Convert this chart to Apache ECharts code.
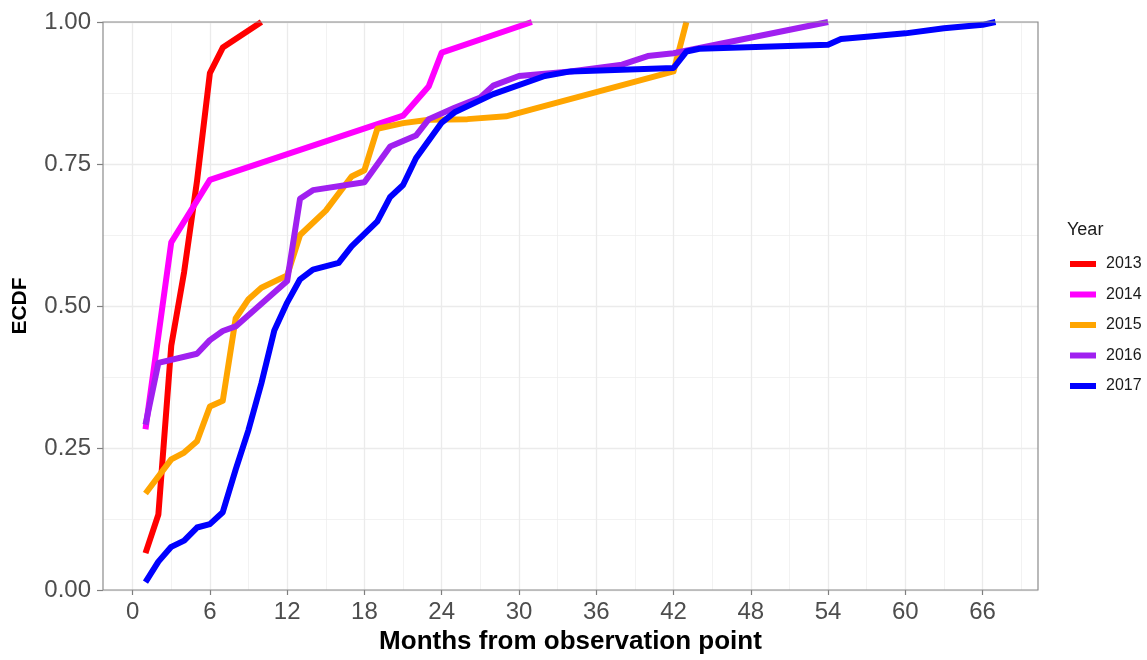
<!DOCTYPE html>
<html>
<head>
<meta charset="utf-8">
<script src="https://cdn.jsdelivr.net/npm/echarts@6/dist/echarts.min.js"></script>
<style>html,body{margin:0;padding:0;background:#fff}#chart{width:1147px;height:660px}</style>
</head>
<body>
<div id="chart"></div>
<script>
// ---- data ----
const years = ['2013', '2014', '2015', '2016', '2017'];
const months2013 = [1, 2, 3, 4, 5, 6, 7, 10];
const ecdf2013   = [0.065, 0.133, 0.43, 0.56, 0.72, 0.91, 0.955, 1.0];
const months2014 = [1, 3, 6, 21, 23, 24, 31];
const ecdf2014   = [0.283, 0.612, 0.722, 0.835, 0.887, 0.946, 1.0];
const months2015 = [1, 3, 4, 5, 6, 7, 8, 9, 10, 12, 13, 15, 17, 18, 19, 21, 23, 26, 29, 31, 42, 43];
const ecdf2015   = [0.17, 0.23, 0.242, 0.262, 0.323, 0.333, 0.478, 0.512, 0.532, 0.554, 0.625, 0.668, 0.728, 0.739, 0.812, 0.822, 0.828, 0.829, 0.834, 0.846, 0.913, 1.0];
const months2016 = [1, 2, 5, 6, 7, 8, 12, 13, 14, 18, 20, 22, 23, 25, 27, 28, 30, 34, 38, 40, 42, 54];
const ecdf2016   = [0.291, 0.40, 0.416, 0.44, 0.456, 0.464, 0.544, 0.689, 0.704, 0.718, 0.781, 0.80, 0.829, 0.849, 0.867, 0.888, 0.905, 0.913, 0.925, 0.94, 0.945, 1.0];
const months2017 = [1, 2, 3, 4, 5, 6, 7, 8, 9, 10, 11, 12, 13, 14, 16, 17, 19, 20, 21, 22, 24, 25, 28, 32, 34, 42, 43, 44, 54, 55, 57, 60, 63, 66, 67];
const ecdf2017   = [0.014, 0.05, 0.076, 0.087, 0.11, 0.116, 0.137, 0.212, 0.282, 0.364, 0.457, 0.506, 0.547, 0.564, 0.576, 0.605, 0.649, 0.692, 0.713, 0.76, 0.823, 0.841, 0.873, 0.905, 0.913, 0.919, 0.948, 0.953, 0.96, 0.97, 0.974, 0.98, 0.989, 0.995, 1.0];
const xTicks = [0, 6, 12, 18, 24, 30, 36, 42, 48, 54, 60, 66];
const xMinorTicks = [3, 9, 15, 21, 27, 33, 39, 45, 51, 57, 63, 69];
const xRange = [-2.3, 70.3];

// ---- build ----
const colors = ['#FF0000', '#FF00FF', '#FFA500', '#A020F0', '#0000FF'];
const monthsAll = [months2013, months2014, months2015, months2016, months2017];
const ecdfAll = [ecdf2013, ecdf2014, ecdf2015, ecdf2016, ecdf2017];
const FONT = 'Liberation Sans, Arial, Helvetica, sans-serif';

const dataSeries = years.map((y, i) => ({
  name: y,
  type: 'line',
  data: monthsAll[i].map((m, j) => [m, ecdfAll[i][j]]),
  showSymbol: false,
  symbol: 'none',
  z: 10 + i,
  color: colors[i],
  lineStyle: { width: 6, color: colors[i], cap: 'butt', join: 'round' },
  animation: false
}));

const gridSeries = {
  type: 'line',
  data: [],
  z: 1,
  silent: true,
  animation: false,
  markLine: {
    z: 1,
    silent: true,
    animation: false,
    symbol: ['none', 'none'],
    label: { show: false },
    emphasis: { disabled: true },
    data: xMinorTicks.map(v => ({ xAxis: v, lineStyle: { color: '#ededed', width: 0.7, type: 'solid' } }))
      .concat(xTicks.map(v => ({ xAxis: v, lineStyle: { color: '#ebebeb', width: 1.3, type: 'solid' } })))
  }
};

const chart = echarts.init(document.getElementById('chart'), null, { renderer: 'canvas' });
chart.setOption({
  animation: false,
  backgroundColor: '#ffffff',
  color: colors,
  grid: { left: 103, right: 109, top: 22, bottom: 65, show: true, borderColor: '#8c8c8c', borderWidth: 1.2, backgroundColor: 'transparent', containLabel: false, z: 20 },
  title: {
    text: 'Year', left: 1067, top: 221,
    textStyle: { fontFamily: FONT, fontSize: 18, fontWeight: 'normal', color: '#1a1a1a' },
    padding: 0
  },
  legend: {
    data: years,
    orient: 'vertical',
    left: 1070, top: 254,
    icon: 'rect',
    itemWidth: 26, itemHeight: 6,
    itemGap: 10.5,
    padding: 0,
    textStyle: { fontFamily: FONT, fontSize: 16, color: '#1a1a1a', lineHeight: 20, padding: [0, 0, 0, 5] },
    selectedMode: false
  },
  xAxis: {
    type: 'value',
    min: xRange[0], max: xRange[1],
    name: 'Months from observation point',
    nameLocation: 'middle',
    nameGap: 39,
    nameTextStyle: { fontFamily: FONT, fontSize: 26, fontWeight: 'bold', color: '#000' },
    axisLine: { show: false, onZero: false },
    axisTick: { show: true, customValues: xTicks, length: 5, lineStyle: { color: '#7f7f7f', width: 1.2 } },
    axisLabel: { customValues: xTicks, margin: 10, fontFamily: FONT, fontSize: 24, color: '#4d4d4d' },
    splitLine: { show: false },
    minorSplitLine: { show: false }
  },
  yAxis: {
    type: 'value',
    min: 0, max: 1, interval: 0.25,
    name: 'ECDF',
    nameLocation: 'middle',
    nameGap: 72,
    nameTextStyle: { fontFamily: FONT, fontSize: 21, fontWeight: 'bold', color: '#000' },
    axisLine: { show: false, onZero: false },
    axisTick: { show: true, length: 6, lineStyle: { color: '#7f7f7f', width: 1.2 } },
    axisLabel: { margin: 12, fontFamily: FONT, fontSize: 24, color: '#4d4d4d', formatter: v => v.toFixed(2) },
    splitLine: { show: true, lineStyle: { color: '#ebebeb', width: 1.3 } },
    minorTick: { show: false, splitNumber: 2 },
    minorSplitLine: { show: true, lineStyle: { color: '#ededed', width: 0.7 } }
  },
  series: [gridSeries].concat(dataSeries)
});
</script>
</body>
</html>
